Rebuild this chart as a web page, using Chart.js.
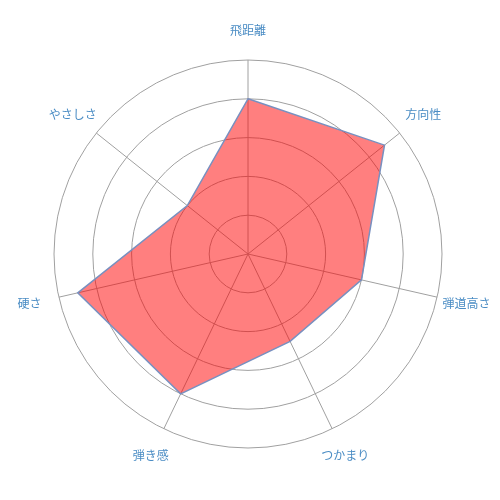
<!DOCTYPE html>
<html>
<head>
<meta charset="utf-8">
<script src="https://cdn.jsdelivr.net/npm/chart.js@4"></script>
<style>
  html, body { margin: 0; padding: 0; background: #fff; }
  #wrap { width: 500px; height: 500px; }
</style>
</head>
<body>
<div id="wrap"><canvas id="radar"></canvas></div>
<script>
const LABELS = ['飛距離', '方向性', '弾道高さ', 'つかまり', '弾き感', '硬さ', 'やさしさ'];
const SCORES = [4, 4.5, 3, 2.5, 4, 4.5, 2];
const SCALE_MAX = 5;

// labels are centred on a ring just outside the grid, like the original
const centredLabels = {
  id: 'centredLabels',
  afterDraw(chart) {
    const scale = chart.scales.r;
    const c = chart.ctx;
    c.save();
    c.font = '12px "Noto Sans CJK JP", sans-serif';
    c.fillStyle = '#4a8cc4';
    c.textAlign = 'center';
    c.textBaseline = 'middle';
    LABELS.forEach((label, i) => {
      const pos = scale.getPointPosition(i, scale.drawingArea + 30);
      c.fillText(label, pos.x, pos.y);
    });
    c.restore();
  }
};

const ctx = document.getElementById('radar').getContext('2d');
new Chart(ctx, {
  type: 'radar',
  data: {
    labels: LABELS,
    datasets: [{
      data: SCORES,
      backgroundColor: 'rgba(255, 0, 0, 0.5)',
      borderColor: '#7890c0',
      borderWidth: 1.5,
      pointRadius: 0,
      pointHoverRadius: 0
    }]
  },
  options: {
    responsive: true,
    maintainAspectRatio: false,
    animation: false,
    layout: { padding: { left: 54, right: 58, top: 60, bottom: 52 } },
    plugins: { legend: { display: false }, tooltip: { enabled: false } },
    scales: {
      r: {
        min: 0,
        max: SCALE_MAX,
        ticks: { display: false, stepSize: 1 },
        grid: { circular: true, color: '#a0a0a0' },
        angleLines: { color: '#a0a0a0' },
        pointLabels: { display: false }
      }
    }
  },
  plugins: [centredLabels]
});
</script>
</body>
</html>
